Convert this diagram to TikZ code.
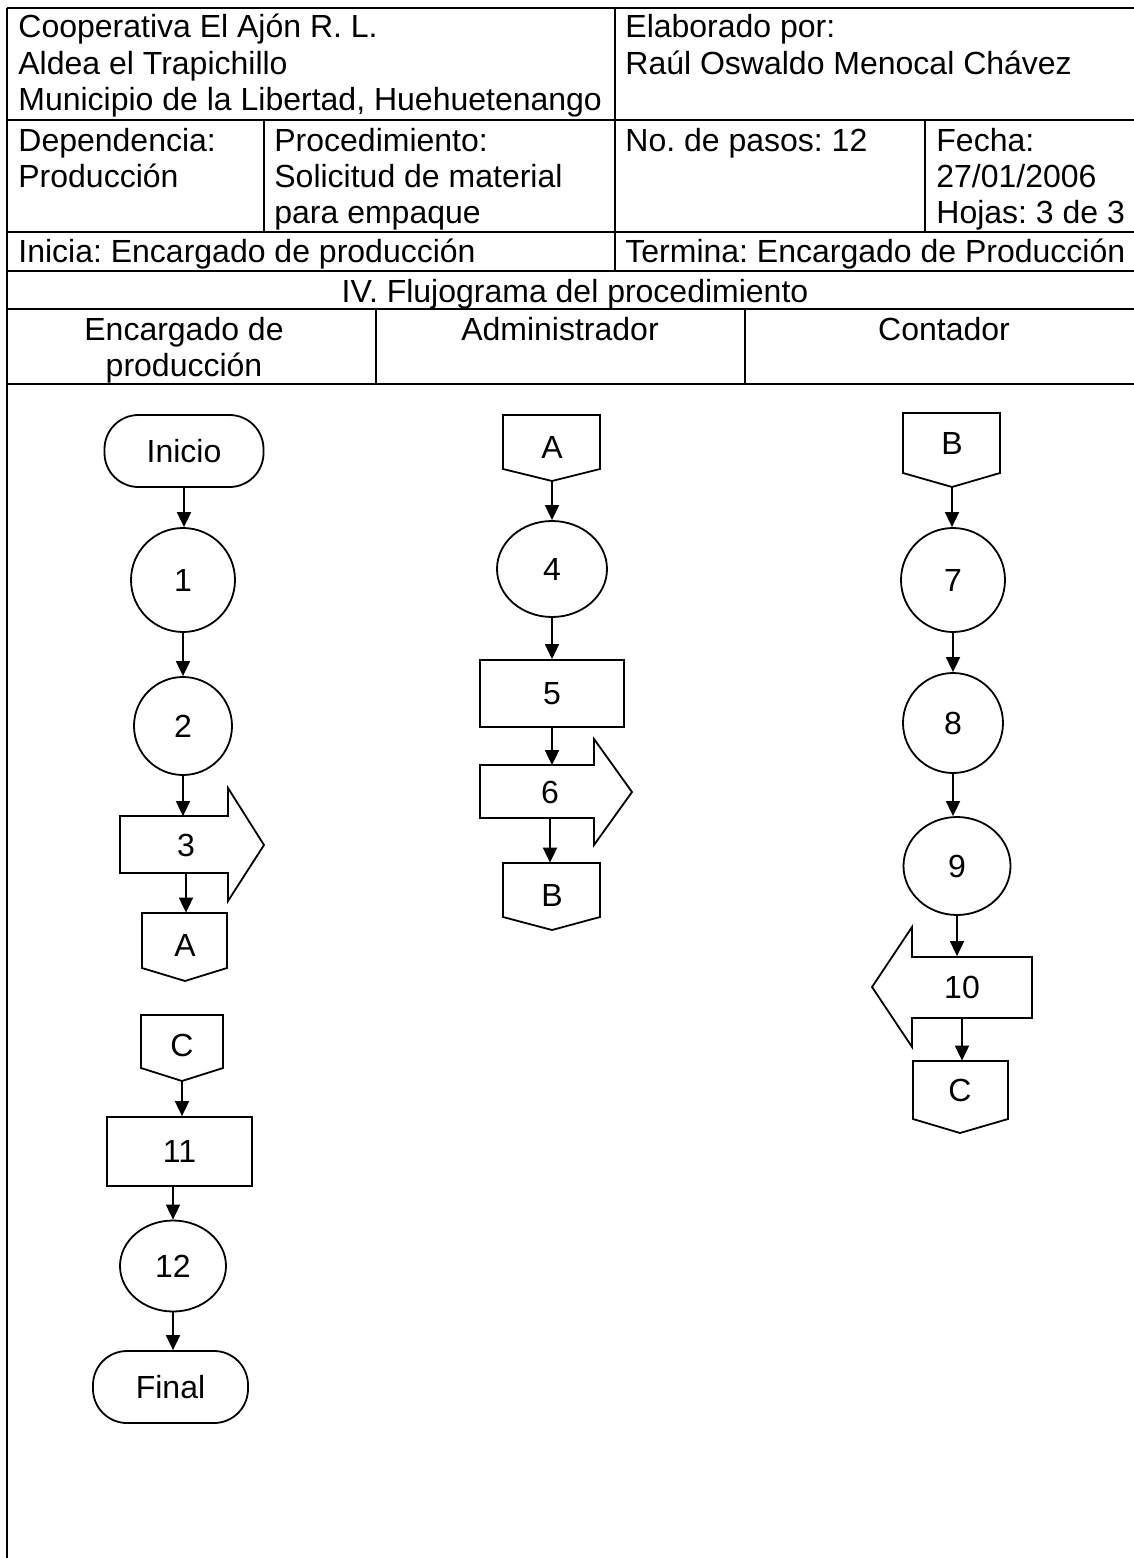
\documentclass[tikz,border=0pt]{standalone}
\usepackage{fontspec}
\setmainfont{Liberation Sans}
\usetikzlibrary{shapes.geometric,arrows.meta}
\frenchspacing
\begin{document}
\begin{tikzpicture}[x=0.5pt,y=-0.5pt,
  every node/.style={font=\fontsize{16}{18}\selectfont, inner sep=0pt},
  tline/.style={line width=1.4pt},
  shp/.style={draw, line width=0.9pt},
  term/.style={shp, rectangle, rounded corners=17pt, minimum width=#1, minimum height=36pt},
  circ/.style={shp, circle, minimum size=#1},
  ell/.style 2 args={shp, ellipse, minimum width=#1, minimum height=#2},
  proc/.style 2 args={shp, rectangle, minimum width=#1, minimum height=#2},
  box/.style={rectangle, minimum height=#1},
  flow/.style={line width=0.9pt, -{Triangle[length=7.5pt,width=7pt]}},
  hdr/.style={anchor=base west},
  hdc/.style={anchor=base}
]
\useasboundingbox (0,0) rectangle (1134,1558);
\fill[white] (0,0) rectangle (1134,1558);

% ---------- table ----------
\draw[tline] (7,8) -- (1140,8);
\draw[tline] (7,8) -- (7,1560);
\foreach \yy in {120,232,271,309,384} \draw[tline] (7,\yy) -- (1140,\yy);
\draw[tline] (615,8) -- (615,271);
\draw[tline] (264,120) -- (264,232);
\draw[tline] (925,120) -- (925,232);
\draw[tline] (376,309) -- (376,384);
\draw[tline] (745,309) -- (745,384);

\node[hdr] (t1) at (18,38) {Cooperativa El Ajón R. L.};
\node[hdr] (t2) at (18,74) {Aldea el Trapichillo};
\node[hdr] (t3) at (18,110) {Municipio de la Libertad, Huehuetenango};
\node[hdr] (t4) at (625,38) {Elaborado por:};
\node[hdr] (t5) at (625,74) {Raúl Oswaldo Menocal Chávez};
\node[hdr] (t6) at (18,151) {Dependencia:};
\node[hdr] (t7) at (18,187) {Producción};
\node[hdr] (t8) at (274,151) {Procedimiento:};
\node[hdr] (t9) at (274,187) {Solicitud de material};
\node[hdr] (t10) at (274,223) {para empaque};
\node[hdr] (t11) at (625,151) {No. de pasos: 12};
\node[hdr] (t12) at (936,151) {Fecha:};
\node[hdr] (t13) at (936,187) {27/01/2006};
\node[hdr] (t14) at (936,223) {Hojas: 3 de 3};
\node[hdr] (t15) at (18,262) {Inicia: Encargado de producción};
\node[hdr] (t16) at (625,262) {Termina: Encargado de Producción};
\node[hdc] (t17) at (575,302) {IV. Flujograma del procedimiento};
\node[hdc] (t18) at (184,340) {Encargado de};
\node[hdc] (t19) at (184,376) {producción};
\node[hdc] (t20) at (560,340) {Administrador};
\node[hdc] (t21) at (944,340) {Contador};

% ---------- lane 1 ----------
\node[term=79.5pt] (ini) at (184,451) {Inicio};
\node[circ=52pt] (s1) at (183,580) {1};
\node[circ=49pt] (s2) at (183,726) {2};
\draw[shp] (120,816) -- (228,816) -- (228,788) -- (264,845) -- (228,901) -- (228,873) -- (120,873) -- cycle;
\node[box=28.5pt] (s3) at (186,845) {3};
\draw[shp] (142,913) -- (227,913) -- (227,968) -- (185,981) -- (142,968) -- cycle;
\node[box=32pt] (cA1) at (185,945) {A};
\draw[shp] (141,1015) -- (223,1015) -- (223,1068) -- (182,1081) -- (141,1068) -- cycle;
\node[box=30pt] (cC1) at (182,1045) {C};
\coordinate (cC1t) at (182,1081);
\node[proc={72.5pt}{34.5pt}] (s11) at (179.5,1151.5) {11};
\node[ell={53pt}{45.5pt}] (s12) at (173,1266) {12};
\node[term=77.5pt] (fin) at (170.5,1387) {Final};

\draw[flow] (ini.south) -- (ini.south |- s1.north);
\draw[flow] (s1.south) -- (s1.south |- s2.north);
\draw[flow] (s2.south) -- (s2.south |- s3.north);
\draw[flow] (s3.south) -- (s3.south |- cA1.north);
\draw[flow] (cC1t) -- (cC1t |- s11.north);
\draw[flow] (s11.south -| s12.north) -- (s12.north);
\draw[flow] (s12.south) -- (s12.south |- fin.north);

% ---------- lane 2 ----------
\draw[shp] (503,415) -- (600,415) -- (600,469) -- (552,481) -- (503,469) -- cycle;
\node[box=30pt] (cA2) at (552,447) {A};
\coordinate (cA2t) at (552,481);
\node[ell={55pt}{48pt}] (s4) at (552,569) {4};
\node[proc={72pt}{33.5pt}] (s5) at (552,693.5) {5};
\draw[shp] (480,765) -- (594,765) -- (594,739) -- (632,792) -- (594,845) -- (594,818) -- (480,818) -- cycle;
\node[box=26.5pt] (s6) at (550,792) {6};
\draw[shp] (503,863) -- (600,863) -- (600,917) -- (552,930) -- (503,917) -- cycle;
\node[box=32pt] (cB2) at (552,895) {B};

\draw[flow] (cA2t) -- (cA2t |- s4.north);
\draw[flow] (s4.south) -- (s4.south |- s5.north);
\draw[flow] (s5.south) -- (s5.south |- s6.north);
\draw[flow] (s6.south) -- (s6.south |- cB2.north);

% ---------- lane 3 ----------
\draw[shp] (903,413) -- (1000,413) -- (1000,473) -- (952,487) -- (903,473) -- cycle;
\node[box=30pt] (cB3) at (952,443) {B};
\coordinate (cB3t) at (952,487);
\node[circ=52pt] (s7) at (953,580) {7};
\node[circ=50pt] (s8) at (953,723) {8};
\node[ell={53.5pt}{49pt}] (s9) at (957,866) {9};
\draw[shp] (1032,957) -- (912,957) -- (912,927) -- (872,987) -- (912,1047) -- (912,1018) -- (1032,1018) -- cycle;
\node[box=30.5pt] (s10) at (962,987) {10};
\draw[shp] (913,1061) -- (1008,1061) -- (1008,1119) -- (960,1133) -- (913,1119) -- cycle;
\node[box=29pt] (cC3) at (960,1090) {C};

\draw[flow] (cB3t) -- (cB3t |- s7.north);
\draw[flow] (s7.south) -- (s7.south |- s8.north);
\draw[flow] (s8.south) -- (s8.south |- s9.north);
\draw[flow] (s9.south) -- (s9.south |- s10.north);
\draw[flow] (s10.south) -- (s10.south |- cC3.north);
\end{tikzpicture}
\end{document}
